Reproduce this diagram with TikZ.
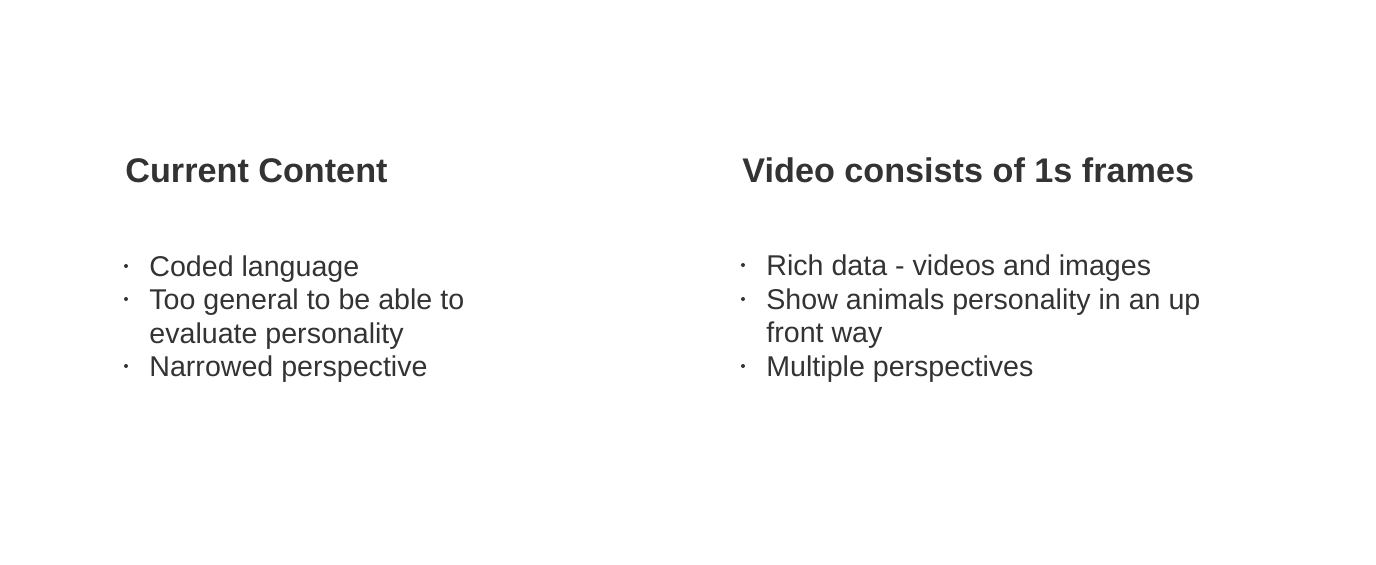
\documentclass[tikz,border=0pt]{standalone}
\usepackage{fontspec}
\setmainfont{Liberation Sans}
\definecolor{inkgrey}{HTML}{333333}
\tikzset{
  heading/.style={anchor=base west, inner sep=0pt, text=inkgrey, font=\fontsize{17.1}{20}\selectfont\bfseries},
  itemtext/.style={anchor=base west, inner sep=0pt, text=inkgrey, font=\fontsize{14.3}{17}\selectfont},
  dot/.style={circle, fill=inkgrey, inner sep=0pt, minimum size=2pt}
}
\begin{document}
\begin{tikzpicture}[x=0.5pt, y=-0.5pt]
  \useasboundingbox (0,0) rectangle (1376,564);
  % left column
  \node [heading] (curhead) at (125,182) {Current Content};
  \node [dot] (cdot1) at (126,266) {};
  \node [itemtext] (coded) at (149,276) {Coded language};
  \node [dot] (cdot2) at (126,299) {};
  \node [itemtext] (general) at (149,309) {Too general to be able to};
  \node [itemtext] (evaluate) at (149,343) {evaluate personality};
  \node [dot] (cdot3) at (126,366) {};
  \node [itemtext] (narrow) at (149,376) {Narrowed perspective};
  % right column
  \node [heading] (vidhead) at (742,182) {Video consists of 1s frames};
  \node [dot] (vdot1) at (743,265) {};
  \node [itemtext] (rich) at (766,275) {Rich data - videos and images};
  \node [dot] (vdot2) at (743,299) {};
  \node [itemtext] (show) at (766,309) {Show animals personality in an up};
  \node [itemtext] (front) at (766,342) {front way};
  \node [dot] (vdot3) at (743,366) {};
  \node [itemtext] (multi) at (766,376) {Multiple perspectives};
\end{tikzpicture}
\end{document}
